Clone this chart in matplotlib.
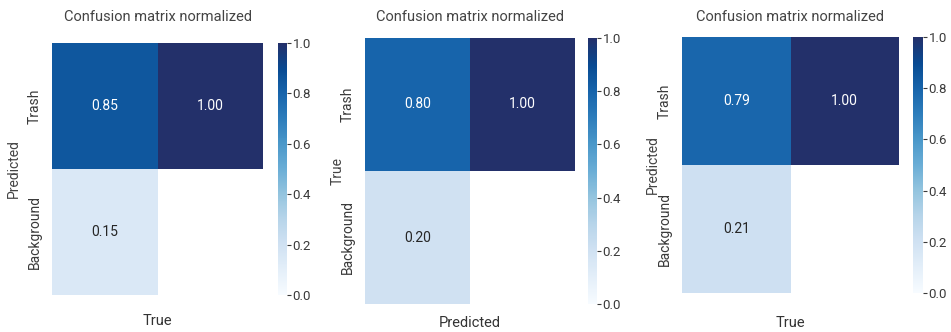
import numpy as np
import matplotlib.pyplot as plt
import seaborn as sns
from matplotlib.colors import LinearSegmentedColormap

plt.rcParams['font.family'] = ['Roboto', 'DejaVu Sans']
plt.rcParams['text.color'] = '#333333'
plt.rcParams['axes.labelcolor'] = '#333333'
plt.rcParams['xtick.color'] = '#333333'
plt.rcParams['ytick.color'] = '#3a3a3a'

classes = ['Trash', 'Background']

# normalized confusion matrices, rows = first label, cols = second
cm_a = [[0.85, 1.00], [0.15, 0.00]]
cm_b = [[0.80, 1.00], [0.20, 0.00]]
cm_c = [[0.79, 1.00], [0.21, 0.00]]

matrices = [cm_a, cm_b, cm_c]
ylabels = ['Predicted', 'True', 'Predicted']
xlabels = ['True', 'Predicted', 'True']

# Blues, with a slightly greyer navy at the top end
blues = plt.get_cmap('Blues')
stops = [blues(v) for v in np.linspace(0, 0.9, 10)] + ['#23306a']
cmap = LinearSegmentedColormap.from_list('blues_navy', stops)

W, H = 951, 332
fig = plt.figure(figsize=(W / 100, H / 100), dpi=100)

# pixel boxes: heatmap (left, top, right, bottom), colorbar (left, right)
boxes = [
    ((52, 43, 263, 295), (278, 287)),
    ((365, 38, 575, 304), (588, 597)),
    ((682, 37, 899, 293), (913, 923)),
]
title_pads = [16, 12.2, 11.5]
ylabel_pads = [4.5, -3.0, -1.5]
xlabel_pads = [14, 8.5, 16.5]


def frac(l, t, r, b):
    return [l / W, 1 - b / H, (r - l) / W, (b - t) / H]


for i, (cm, ylab, xlab) in enumerate(zip(matrices, ylabels, xlabels)):
    hbox, cbox = boxes[i]
    ax = fig.add_axes(frac(*hbox))
    cax = fig.add_axes(frac(cbox[0], hbox[1], cbox[1], hbox[3]))
    data = np.array(cm)
    sns.heatmap(data, mask=data == 0, annot=True, fmt='.2f', cmap=cmap,
                vmin=0, vmax=1, ax=ax, cbar_ax=cax,
                annot_kws={'fontsize': 10},
                xticklabels=False, yticklabels=classes)
    ax.set_title('Confusion matrix normalized', fontsize=10.5, color='#444444',
                 pad=title_pads[i])
    ax.set_ylabel(ylab, fontsize=10, color='#444444', labelpad=ylabel_pads[i])
    ax.set_xlabel(xlab, fontsize=10.5, labelpad=xlabel_pads[i])
    ax.tick_params(axis='y', labelsize=10, length=0, pad=7.5)
    for lbl in ax.get_yticklabels():
        lbl.set_rotation(90)
        lbl.set_va('center')
    cax.set_yticks([0, 0.2, 0.4, 0.6, 0.8, 1.0])
    cax.tick_params(labelsize=9.5, length=3, width=0.8, pad=1)

fig.savefig('out.png', dpi=100)
